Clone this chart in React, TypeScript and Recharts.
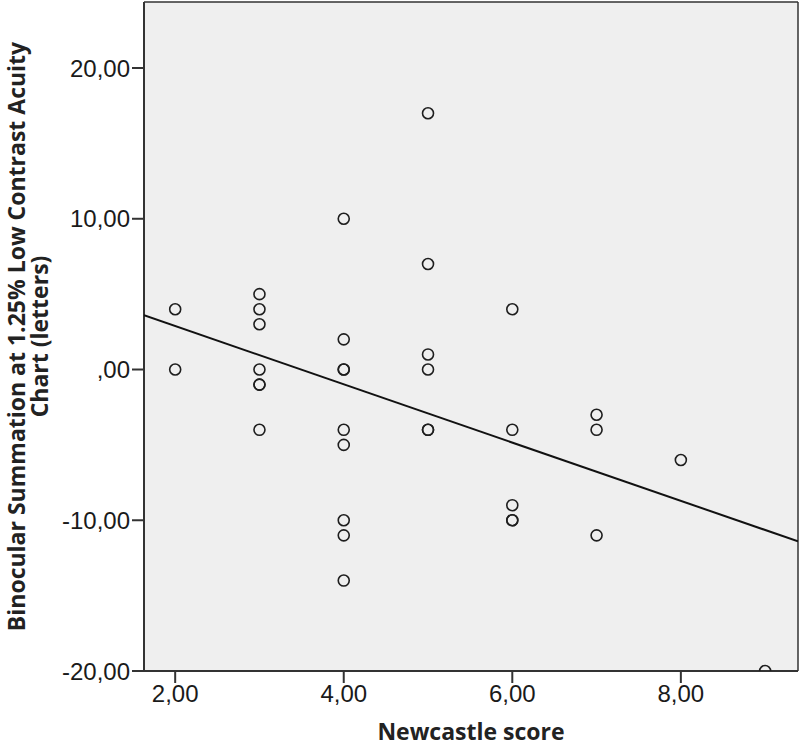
import React from "react";
import { ScatterChart, Scatter, XAxis, YAxis, CartesianGrid } from "recharts";

const newcastleScore = [2, 2, 3, 3, 3, 3, 3, 3, 3, 4, 4, 4, 4, 4, 4, 4, 4, 4, 5, 5, 5, 5, 5, 5, 6, 6, 6, 6, 6, 7, 7, 7, 8, 9];
const binocularSummation = [4, 0, 5, 4, 3, 0, -1, -1, -4, 10, 2, 0, 0, -4, -5, -10, -11, -14, 17, 7, 1, 0, -4, -4, 4, -4, -9, -10, -10, -3, -4, -11, -6, -20];

const fitX = [1.63, 9.39];
const fitY = [3.6, -11.4];

const xTicks = [2, 4, 6, 8];
const yTicks = [-20, -10, 0, 10, 20];
const xDomain = [1.63, 9.39];
const yDomain = [-20, 24.38];

const xTitle = "Newcastle score";
const yTitleLines = ["Binocular Summation at 1.25% Low Contrast Acuity", "Chart (letters)"];

const points = newcastleScore.map((x, i) => ({ x, y: binocularSummation[i] }));
const fitLine = fitX.map((x, i) => ({ x, y: fitY[i] }));

const fmt = (v: number) => (v === 0 ? ",00" : v.toFixed(2).replace(".", ","));

const TICK_FONT = "'Liberation Sans', Arial, Helvetica, sans-serif";
const TITLE_FONT = "'Open Sans', 'Noto Sans', sans-serif";

const OpenCircle = (props: any) => {
  const { cx, cy } = props;
  if (cx == null || cy == null) return <g />;
  return <circle cx={cx} cy={cy} r={5.5} fill="none" stroke="#1e1e1e" strokeWidth={1.6} />;
};

const NoShape = () => <g />;

const YTitle = (props: any) => {
  const vb = props.viewBox || {};
  const cy = (vb.y ?? 2) + (vb.height ?? 669) / 2;
  const xs = [25, 48];
  return (
    <g>
      {yTitleLines.map((line, i) => (
        <text
          key={i}
          x={xs[i]}
          y={cy}
          transform={`rotate(-90, ${xs[i]}, ${cy})`}
          textAnchor="middle"
          fontFamily={TITLE_FONT}
          fontWeight={700}
          fontSize={23}
          fill="#222"
        >
          {line}
        </text>
      ))}
    </g>
  );
};

const XTitle = (props: any) => {
  const vb = props.viewBox || {};
  const cx = (vb.x ?? 144) + (vb.width ?? 654) / 2;
  return (
    <text x={cx} y={740} textAnchor="middle" fontFamily={TITLE_FONT} fontWeight={700} fontSize={23} fill="#222">
      {xTitle}
    </text>
  );
};

export default function App() {
  return (
    <div style={{ position: "absolute", left: 0, top: 0, width: 800, height: 748, background: "#fff" }}>
      <ScatterChart width={800} height={748} margin={{ top: 2, right: 2, bottom: 0, left: 0 }}>
        <CartesianGrid
          fill="#efefef"
          stroke="#333"
          strokeWidth={1.5}
          horizontalCoordinatesGenerator={(p: any) => [p.offset.top]}
          verticalCoordinatesGenerator={(p: any) => [p.offset.left + p.offset.width]}
        />
        <XAxis
          type="number"
          dataKey="x"
          domain={xDomain}
          ticks={xTicks}
          allowDataOverflow
          height={77}
          tickFormatter={fmt}
          tickSize={12}
          tickMargin={2}
          stroke="#333"
          strokeWidth={2}
          tick={{ fontFamily: TICK_FONT, fontSize: 24, fill: "#1a1a1a" }}
          label={{ content: XTitle }}
        />
        <YAxis
          type="number"
          dataKey="y"
          domain={yDomain}
          ticks={yTicks}
          allowDataOverflow
          width={144}
          tickFormatter={fmt}
          tickSize={12}
          tickMargin={2}
          stroke="#333"
          strokeWidth={2}
          tick={{ fontFamily: TICK_FONT, fontSize: 24, fill: "#1a1a1a" }}
          label={{ content: YTitle }}
        />
        <Scatter data={fitLine} line={{ stroke: "#111", strokeWidth: 2 }} shape={NoShape} isAnimationActive={false} />
        <Scatter data={points} shape={OpenCircle} isAnimationActive={false} />
      </ScatterChart>
    </div>
  );
}
